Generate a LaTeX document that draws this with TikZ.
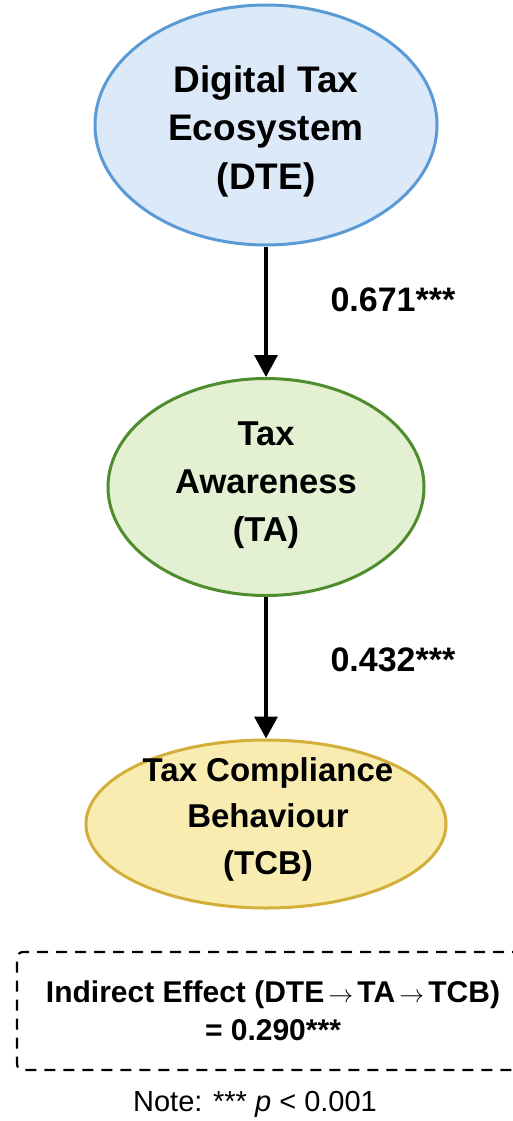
\documentclass[tikz,border=0pt]{standalone}
\usepackage{fontspec}
\setmainfont{Liberation Sans}
\usetikzlibrary{shapes.geometric,arrows.meta}
\definecolor{dtefill}{HTML}{DCE9F8}
\definecolor{dteline}{HTML}{5B9BD5}
\definecolor{tafill}{HTML}{E3F0D2}
\definecolor{taline}{HTML}{4E8C2E}
\definecolor{tcbfill}{HTML}{F9ECB0}
\definecolor{tcbline}{HTML}{D4AE3A}
\tikzset{
  construct/.style={ellipse, draw, line width=3pt, inner sep=0pt},
  ctext/.style={align=center, inner sep=0pt},
  path/.style={-{Triangle[length=22pt,width=23pt]}, line width=3.5pt},
  coef/.style={font=\fontsize{34}{40}\selectfont\bfseries, anchor=west},
  effectbox/.style={draw, dashed, dash pattern=on 11pt off 8pt, line width=2.2pt, rounded corners=6pt,
    minimum width=512pt, minimum height=118pt, align=center,
    font=\fontsize{30}{38}\selectfont\bfseries},
  notetext/.style={font=\fontsize{29}{34}\selectfont}
}
\begin{document}
\begin{tikzpicture}[x=1pt,y=-1pt]
\useasboundingbox[fill=white] (0,0) rectangle (513,1121);
\node[construct, fill=dtefill, draw=dteline, minimum width=342pt, minimum height=240pt] (dte) at (266,125) {};
\node[ctext, font=\fontsize{37}{48.5}\selectfont\bfseries] (dtet) at (266,131) {Digital Tax\\Ecosystem\\(DTE)};
\node[construct, fill=tafill, draw=taline, minimum width=316pt, minimum height=217pt] (ta) at (266,487) {};
\node[ctext, font=\fontsize{34.5}{48}\selectfont\bfseries] (tat) at (266,485) {Tax\\Awareness\\(TA)};
\node[construct, fill=tcbfill, draw=tcbline, minimum width=360pt, minimum height=168pt] (tcb) at (266,824) {};
\node[ctext, font=\fontsize{33}{46.5}\selectfont\bfseries] (tcbt) at (268,819) {Tax Compliance\\Behaviour\\(TCB)};
\draw[path] (dte.south) -- (ta.north);
\draw[path] (ta.south) -- (tcb.north);
\node[coef] (c1) at (327,300) {0.671***};
\node[coef] (c2) at (327,660) {0.432***};
\node[effectbox] (ie) at (273,1011) {Indirect Effect (DTE$\,\rightarrow\,$TA$\,\rightarrow\,$TCB)\\= 0.290***};
\node[notetext] (note) at (255,1104) {Note: *** \textit{p} < 0.001};
\end{tikzpicture}
\end{document}
